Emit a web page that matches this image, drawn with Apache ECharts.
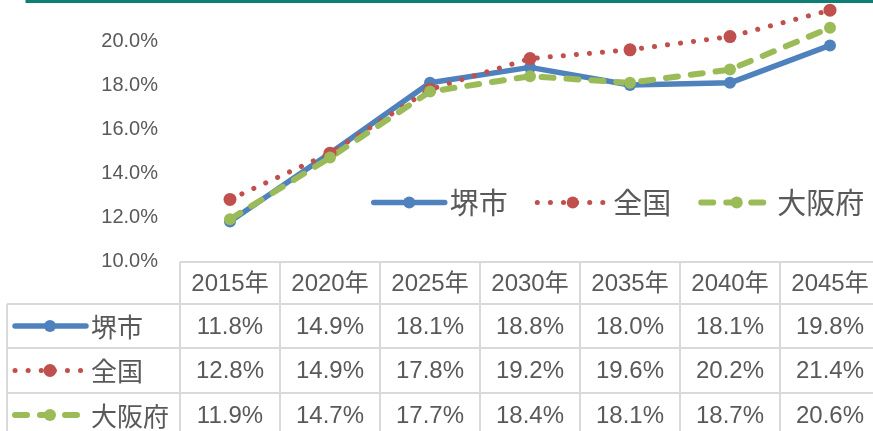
<!DOCTYPE html>
<html><head><meta charset="utf-8">
<script src="https://cdn.jsdelivr.net/npm/echarts@6/dist/echarts.min.js"></script>
<style>html,body{margin:0;padding:0;background:#fff}#c{width:873px;height:431px}</style>
</head><body><div id="c"></div>
<script>
// ---- data ----
const categories = ['2015年','2020年','2025年','2030年','2035年','2040年','2045年'];
const seriesNames = ['堺市','全国','大阪府'];
const sakai   = [11.8, 14.9, 18.1, 18.8, 18.0, 18.1, 19.8];
const zenkoku = [12.8, 14.9, 17.8, 19.2, 19.6, 20.2, 21.4];
const osaka   = [11.9, 14.7, 17.7, 18.4, 18.1, 18.7, 20.6];
const yMin = 10, yMax = 22, yInterval = 2;

// ---- styles ----
const LATIN = "'Liberation Sans','Noto Sans CJK JP',sans-serif";
const CJK = "'Noto Sans CJK JP',sans-serif";
const TXT = '#595959';
const GRIDC = '#d9d9d9';
const seriesData = [sakai, zenkoku, osaka];
const styles = [
  {color:'#4f81bd', width:5.5, type:'solid', symbolSize:12},
  {color:'#c0504d', width:5, type:[0.1,13], symbolSize:13},
  {color:'#9bbb59', width:6, type:[12,13], symbolSize:12}
];

const chart = echarts.init(document.getElementById('c'), null, {renderer:'canvas'});
chart.setOption({
  animation:false,
  grid:{left:180, right:-7, top:-3, bottom:170, containLabel:false, outerBoundsMode:'none'},
  xAxis:{type:'category', data:categories, boundaryGap:true,
    axisLine:{show:false}, axisTick:{show:false}, axisLabel:{show:false}, splitLine:{show:false}},
  yAxis:{type:'value', min:yMin, max:yMax, interval:yInterval,
    axisLabel:{formatter:v=>v.toFixed(1)+'%', color:TXT, fontSize:20, fontFamily:LATIN, margin:22},
    splitLine:{show:false}, axisLine:{show:false}, axisTick:{show:false}},
  legend:{
    data: seriesNames.map((n,i)=>({name:n,
      lineStyle:{color:styles[i].color, width:styles[i].width, type:styles[i].type, cap:'round'},
      itemStyle:{color:styles[i].color}})),
    left:371, top:188, width:502, padding:0, itemWidth:71, itemHeight:15, itemGap:27,
    textStyle:{fontSize:29, fontFamily:CJK, color:TXT}},
  series: seriesNames.map((n,i)=>({
    name:n, type:'line', data:seriesData[i], symbol:'circle', symbolSize:styles[i].symbolSize,
    lineStyle:{color:styles[i].color, width:styles[i].width, type:styles[i].type, cap:'round', join:'round'},
    itemStyle:{color:styles[i].color}
  }))
});

// ---- data table below the plot ----
const cx = categories.map((c,i)=>chart.convertToPixel({xAxisIndex:0}, i));
const band = cx[1]-cx[0];
const rowEdges = [262, 304, 348, 393, 437];
const W = 873;
const g = [];
function ln(x1,y1,x2,y2,stroke,w,extra){ g.push({type:'line', silent:true, z:50, shape:{x1,y1,x2,y2}, style:Object.assign({stroke, lineWidth:w}, extra||{})}); }
// horizontal lines
ln(cx[0]-band/2, rowEdges[0], W, rowEdges[0], GRIDC, 2);
for (let r=1;r<4;r++) ln(7, rowEdges[r], W, rowEdges[r], GRIDC, 2);
// vertical lines
ln(7, rowEdges[1], 7, 431, GRIDC, 2);
cx.forEach(x=>ln(x-band/2, rowEdges[0], x-band/2, 431, GRIDC, 2));
// header
categories.forEach((c,i)=>g.push({type:'text', z:50, x:cx[i], y:(rowEdges[0]+rowEdges[1])/2+1,
  style:{text:c, fill:TXT, fontSize:24, fontFamily:LATIN, align:'center', verticalAlign:'middle'}}));
// rows
seriesNames.forEach((n,r)=>{
  const yc = (rowEdges[r+1]+rowEdges[r+2])/2 + 1;
  const s = styles[r];
  ln(15, yc-1, 86, yc-1, s.color, s.width, {lineDash: s.type==='solid'?null:s.type, lineCap:'round'});
  g.push({type:'circle', z:51, shape:{cx:50, cy:yc-1, r:s.symbolSize/2}, style:{fill:s.color}});
  g.push({type:'text', z:50, x:91, y:yc, style:{text:n, fill:TXT, fontSize:26, fontFamily:CJK, align:'left', verticalAlign:'middle'}});
  seriesData[r].forEach((v,i)=>g.push({type:'text', z:50, x:cx[i], y:yc,
    style:{text:v.toFixed(1)+'%', fill:TXT, fontSize:24, fontFamily:LATIN, align:'center', verticalAlign:'middle'}}));
});
// teal selection border at top
ln(27, 1.5, W, 1.5, '#0e7f74', 3);
ln(27, 0, 27, 3, '#0e7f74', 3);
chart.setOption({graphic:g});
</script>
</body></html>
